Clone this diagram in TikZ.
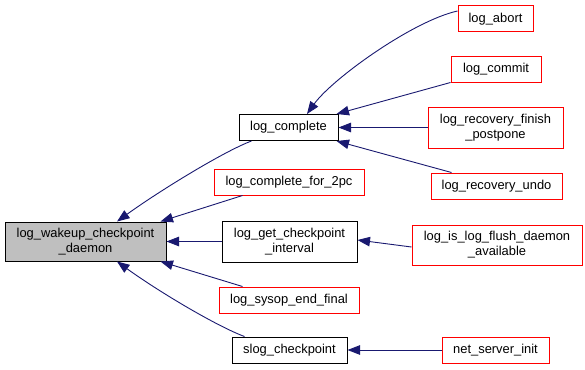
\documentclass[tikz,border=0pt]{standalone}
\usepackage{fontspec}
\setmainfont{Liberation Sans}
\usetikzlibrary{arrows.meta}
\definecolor{edgeblue}{RGB}{25,25,112}
\definecolor{nodegray}{RGB}{191,191,191}
\begin{document}
\begin{tikzpicture}[x=1pt,y=-1pt,
  fn/.style={draw=black, line width=1pt, fill=white, inner sep=0pt, align=center,
    font=\fontsize{12.9}{15}\selectfont, minimum height=26pt},
  ext/.style={fn, draw=red},
  cur/.style={fn, fill=nodegray},
  edge/.style={draw=edgeblue, line width=0.9pt,
    -{Triangle[length=12.5pt,width=9.5pt,fill=edgeblue]}}]
\useasboundingbox (0,0) rectangle (585,369);

% the function whose callers are shown
\node[cur, minimum width=161pt, minimum height=39pt] (main) at (85.5,241.5)
  {log\_wakeup\_checkpoint\\\_daemon};

% direct callers
\node[fn,  minimum width=99pt]  (lc)   at (288.5,127.5) {log\_complete};
\node[ext, minimum width=150pt] (lc2)  at (289,182)     {log\_complete\_for\_2pc};
\node[fn,  minimum width=135pt, minimum height=41pt] (gci) at (289.5,241.5)
  {log\_get\_checkpoint\\\_interval};
\node[ext, minimum width=140pt] (sef)  at (289,300)     {log\_sysop\_end\_final};
\node[fn,  minimum width=115pt] (slog) at (289.5,350)   {slog\_checkpoint};

% second-level callers
\node[ext, minimum width=75pt]  (abort)  at (495.5,19)    {log\_abort};
\node[ext, minimum width=90pt]  (commit) at (496,69)      {log\_commit};
\node[ext, minimum width=135pt, minimum height=41pt] (rfp) at (495.5,127.5)
  {log\_recovery\_finish\\\_postpone};
\node[ext, minimum width=131pt] (undo)   at (496.5,186)   {log\_recovery\_undo};
\node[ext, minimum width=170pt, minimum height=40pt] (flush) at (497,245)
  {log\_is\_log\_flush\_daemon\\\_available};
\node[ext, minimum width=107pt] (net)    at (495.5,350)   {net\_server\_init};

% call edges, arrow at the caller
\draw[edge] ([xshift=13pt]lc.south west) .. controls +(-27,10) and +(43,-31) ..
  ([xshift=31.5pt]main.north);
\draw[edge] ([xshift=29pt]lc2.south west) -- ([xshift=-6pt]main.north east);
\draw[edge] (gci.west) -- (main.east);
\draw[edge] ([xshift=24pt]sef.north west) -- ([xshift=-6pt]main.south east);
\draw[edge] ([xshift=13pt]slog.north west) .. controls +(-27,-10) and +(43,31) ..
  ([xshift=31.5pt]main.south);

\draw[edge] ([yshift=8pt]abort.west) .. controls +(-45,10) and +(25,-35) ..
  ([xshift=18.5pt]lc.north);
\draw[edge] (commit.south west) -- ([xshift=-2pt]lc.north east);
\draw[edge] (rfp.west) -- (lc.east);
\draw[edge] ([xshift=21pt]undo.north west) -- ([xshift=-2pt]lc.south east);
\draw[edge] ([yshift=-2pt]flush.west) -- ([yshift=1.5pt]gci.east);
\draw[edge] (net.west) -- (slog.east);
\end{tikzpicture}
\end{document}
